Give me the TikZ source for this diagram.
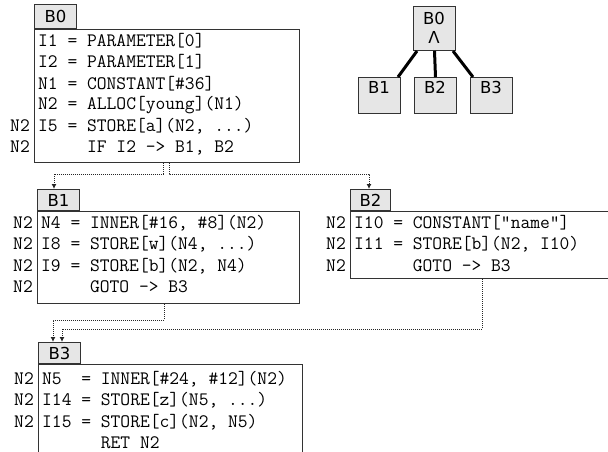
\documentclass[tikz,border=0pt]{standalone}
\usepackage{fontspec}
\newfontfamily\tabfont{DejaVu Sans}
\usetikzlibrary{arrows.meta}
\definecolor{tabgray}{HTML}{E6E6E6}
\definecolor{framegray}{HTML}{333333}

\begin{document}
\begin{tikzpicture}[x=1pt,y=-1pt,
  blockbox/.style={draw=framegray, line width=1pt, anchor=north west, inner sep=0pt},
  tabbox/.style={draw=framegray, fill=tabgray, line width=1pt, anchor=south west,
    inner sep=0pt, minimum width=42pt, minimum height=21pt,
    font=\tabfont\fontsize{16.5}{16.5}\selectfont},
  codeline/.style={anchor=base west, inner sep=0pt, font=\ttfamily\fontsize{19}{21}\selectfont},
  livelabel/.style={anchor=base east, inner sep=0pt, font=\ttfamily\fontsize{19}{21}\selectfont},
  flow/.style={draw=black!85, line width=1pt, dash pattern=on 1pt off 1pt,
    -{Latex[length=5pt,width=5pt]}},
  treebox/.style={draw=framegray, fill=tabgray, line width=1pt, anchor=north west, inner sep=0pt},
  treelabel/.style={inner sep=0pt, anchor=base, font=\tabfont\fontsize{16.5}{16.5}\selectfont},
  treeedge/.style={draw=black, line width=3pt}]

\useasboundingbox (0,0) rectangle (608,452);
\clip (0,0) rectangle (608,452);

% ---------- block B0 ----------
\node[blockbox, minimum width=265pt, minimum height=133pt] (b0) at (34,29) {};
\node[tabbox, minimum height=24pt] (b0tab) at (b0.north west) {B0};
\node[codeline] (b0l1) at (38,47)  {I1 = PARAMETER[0]};
\node[codeline] (b0l2) at (38,68)  {I2 = PARAMETER[1]};
\node[codeline] (b0l3) at (38,89)  {N1 = CONSTANT[\#36]};
\node[codeline] (b0l4) at (38,110) {N2 = ALLOC[young](N1)};
\node[codeline] (b0l5) at (38,131) {I5 = STORE[a](N2, ...)};
\node[codeline] (b0l6) at (38,152) {\hphantom{I1 =\ }IF I2 -> B1, B2};
\node[livelabel] (b0n5) at (30,131) {N2};
\node[livelabel] (b0n6) at (30,152) {N2};

% ---------- block B1 ----------
\node[blockbox, minimum width=262pt, minimum height=92pt] (b1) at (37,211) {};
\node[tabbox] (b1tab) at (b1.north west) {B1};
\node[codeline] (b1l1) at (41,228.5) {N4 = INNER[\#16, \#8](N2)};
\node[codeline] (b1l2) at (41,249.8) {I8 = STORE[w](N4, ...)};
\node[codeline] (b1l3) at (41,271.1) {I9 = STORE[b](N2, N4)};
\node[codeline] (b1l4) at (41,292.4) {\hphantom{I1 =\ }GOTO -> B3};
\node[livelabel] (b1n1) at (33,228.5) {N2};
\node[livelabel] (b1n2) at (33,249.8) {N2};
\node[livelabel] (b1n3) at (33,271.1) {N2};
\node[livelabel] (b1n4) at (33,292.4) {N2};

% ---------- block B2 ----------
\node[blockbox, minimum width=300pt, minimum height=67pt] (b2) at (350,211) {};
\node[tabbox, minimum width=40pt] (b2tab) at (b2.north west) {B2};
\node[codeline] (b2l1) at (354,228.5) {I10 = CONSTANT["name"]};
\node[codeline] (b2l2) at (354,249.8) {I11 = STORE[b](N2, I10)};
\node[codeline] (b2l3) at (354,271.1) {\hphantom{I10 =\ }GOTO -> B3};
\node[livelabel] (b2n1) at (346,228.5) {N2};
\node[livelabel] (b2n2) at (346,249.8) {N2};
\node[livelabel] (b2n3) at (346,271.1) {N2};

% ---------- block B3 ----------
\node[blockbox, minimum width=264pt, minimum height=120pt] (b3) at (38,364) {};
\node[tabbox] (b3tab) at (b3.north west) {B3};
\node[codeline] (b3l1) at (42,384.3) {N5\ \ = INNER[\#24, \#12](N2)};
\node[codeline] (b3l2) at (42,405.6) {I14 = STORE[z](N5, ...)};
\node[codeline] (b3l3) at (42,427.0) {I15 = STORE[c](N2, N5)};
\node[codeline] (b3l4) at (42,448.3) {\hphantom{I15 =\ }RET N2};
\node[livelabel] (b3n1) at (34,384.3) {N2};
\node[livelabel] (b3n2) at (34,405.6) {N2};
\node[livelabel] (b3n3) at (34,427.0) {N2};

% ---------- control-flow edges ----------
\draw[flow] ([xshift=129pt]b0.south west) -- ++(0,11) -| ([xshift=17pt]b1tab.north west);
\draw[flow] ([xshift=135pt]b0.south west) -- ++(0,11) -| ([xshift=19pt]b2tab.north west);
\draw[flow] ([xshift=127pt]b1.south west) -- ++(0,16) -| ([xshift=15pt]b3tab.north west);
\draw[flow] ([xshift=132pt]b2.south west) -- ++(0,50) -| ([xshift=24pt]b3tab.north west);

% ---------- dominator tree ----------
\node[treebox, minimum width=42pt, minimum height=44pt] (t0) at (413,6) {};
\node[treebox, minimum width=42pt, minimum height=36pt] (t1) at (358,77) {};
\node[treebox, minimum width=42pt, minimum height=36pt] (t2) at (414,77) {};
\node[treebox, minimum width=42pt, minimum height=36pt] (t3) at (470,77) {};
\node[treelabel] (t0name) at (434,25) {B0};
\node[treelabel] (t0op) at (434,44) {Λ};
\node[treelabel] (t1name) at (379,94) {B1};
\node[treelabel] (t2name) at (435,94) {B2};
\node[treelabel] (t3name) at (491,94) {B3};
\draw[treeedge] ([xshift=4pt]t0.south west) -- ([xshift=-3pt]t1.north east);
\draw[treeedge] (t0.south) -- (t2.north);
\draw[treeedge] ([xshift=-3pt]t0.south east) -- ([xshift=3pt]t3.north west);
\end{tikzpicture}
\end{document}
